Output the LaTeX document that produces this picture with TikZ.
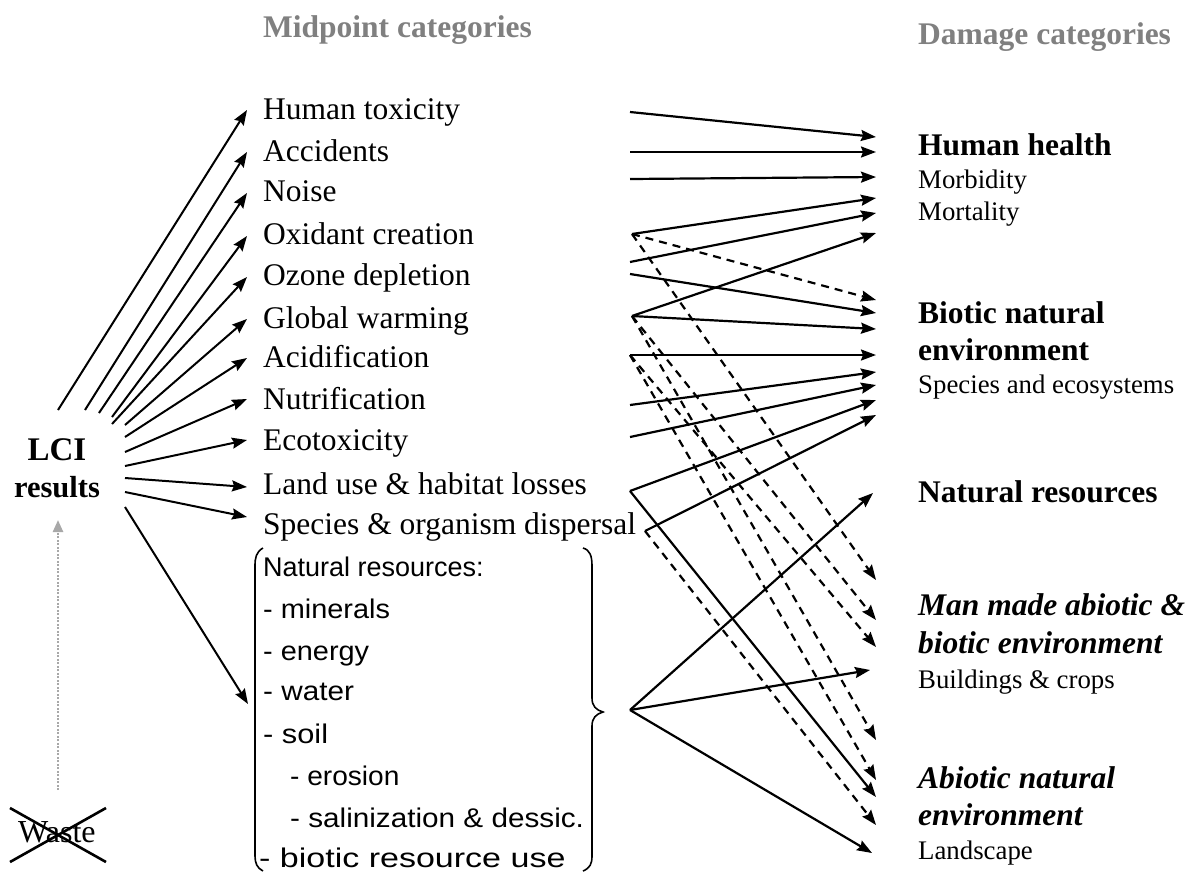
\documentclass[tikz,border=0pt]{standalone}
\usepackage{fontspec}
\setmainfont{Liberation Serif}
\newfontfamily\listfont{Liberation Sans}
\usetikzlibrary{arrows.meta}
\newcommand*\pxsize[1]{\fontsize{#1}{#1}\selectfont}
\newcommand*\wide[2]{\scalebox{#1}[1]{#2}}
\definecolor{headgray}{gray}{0.5}
\definecolor{wastegray}{gray}{0.66}

\begin{document}
\begin{tikzpicture}[x=1pt,y=-1pt,
  lbl/.style={anchor=base west, inner sep=0pt, font=\pxsize{31.5}},
  sub/.style={anchor=base west, inner sep=0pt, font=\pxsize{26.8}},
  dmg/.style={anchor=base west, inner sep=0pt, font=\pxsize{31.5}\bfseries},
  dmgi/.style={anchor=base west, inner sep=0pt, font=\pxsize{31.5}\bfseries\itshape},
  res/.style={anchor=base west, inner sep=0pt, font=\listfont\pxsize{27}},
  head/.style={anchor=base west, inner sep=0pt, font=\pxsize{31.5}\bfseries, text=headgray},
  tip/.style={-{Stealth[length=15pt,width=11pt,inset=2pt]}},
  fan/.style={line width=2pt, tip},
  arr/.style={line width=2.2pt, tip},
  darr/.style={arr, dash pattern=on 8pt off 6pt},
  brace/.style={line width=1.6pt},
]
\useasboundingbox (0,0) rectangle (1197,871);

% column headings
\node[head] (hmid) at (263,37) {Midpoint categories};
\node[head] (hdmg) at (918,44) {Damage categories};

% inventory results
\node[anchor=base, inner sep=0pt, font=\pxsize{33}\bfseries] (lci) at (57,460) {LCI};
\node[anchor=base, inner sep=0pt, font=\pxsize{30.5}\bfseries] (res) at (57,497) {results};
\node[anchor=base west, inner sep=0pt, font=\pxsize{32}] (waste) at (18,842) {Waste};
\draw[line width=2.6pt] (10,808) -- (106,862);
\draw[line width=2.6pt] (10,862) -- (106,808);
\coordinate (wtop) at (58,790);
\coordinate (rbot) at (58,520);
\draw[wastegray, line width=2.4pt, dash pattern=on 2pt off 1.5pt,
      -{Triangle[length=12pt,width=10pt]}] (wtop) -- (rbot);

% midpoint categories
\node[lbl] (ht) at (263,119) {Human toxicity};
\node[lbl] (ac) at (263,161) {Accidents};
\node[lbl] (no) at (263,201) {Noise};
\node[lbl] (ox) at (263,244) {Oxidant creation};
\node[lbl] (oz) at (263,285) {Ozone depletion};
\node[lbl] (gw) at (263,328) {Global warming};
\node[lbl] (ad) at (263,367) {Acidification};
\node[lbl] (nu) at (263,409) {Nutrification};
\node[lbl] (ec) at (263,450) {Ecotoxicity};
\node[lbl] (lu) at (263,494) {Land use \& habitat losses};
\node[lbl] (sp) at (263,534) {Species \& organism dispersal};

% natural resources list
\node[res] (nr) at (263,576) {Natural resources:};
\node[res] (nr1) at (263,618) {\wide{1.07}{- minerals}};
\node[res] (nr2) at (263,660) {\wide{1.07}{- energy}};
\node[res] (nr3) at (263,700) {\wide{1.1}{- water}};
\node[res] (nr4) at (263,743) {\wide{1.14}{- soil}};
\node[res] (nr5) at (290,785) {\wide{1.04}{- erosion}};
\node[res] (nr6) at (290,827) {\wide{1.1}{- salinization \& dessic.}};
\node[res] (nr7) at (259,867) {\wide{1.26}{- biotic resource use}};
\draw[brace] (263,548) .. controls (256,552) and (255,558) .. (255,566)
  -- (255,856) .. controls (255,863) and (257,868) .. (263,871);
\draw[brace] (583,548) .. controls (590,550) and (592,556) .. (592,566)
  -- (592,698) .. controls (592,706) and (596,710) .. (603,712)
  .. controls (596,714) and (592,718) .. (592,726)
  -- (592,856) .. controls (592,864) and (590,868) .. (583,871);

% damage categories
\node[dmg] (hh) at (918,155) {Human health};
\node[sub] (hh1) at (918,188) {Morbidity};
\node[sub] (hh2) at (918,220) {Mortality};
\node[dmg] (bn) at (918,323) {Biotic natural};
\node[dmg] (bn1) at (918,360) {environment};
\node[sub] (bn2) at (918,393) {Species and ecosystems};
\node[dmg] (nres) at (918,502) {Natural resources};
\node[dmgi] (mm) at (918,615) {Man made abiotic \&};
\node[dmgi] (mm1) at (918,653) {biotic environment};
\node[sub] (mm2) at (918,688) {Buildings \& crops};
\node[dmgi] (ab) at (918,788) {Abiotic natural};
\node[dmgi] (ab1) at (918,825) {environment};
\node[sub] (ab2) at (918,859) {Landscape};

% fan from the inventory results
\coordinate (f1) at (58,410);  \coordinate (i-ht) at (247,110);
\coordinate (f2) at (85,410);  \coordinate (i-ac) at (247,152);
\coordinate (f3) at (99,413);  \coordinate (i-no) at (247,193);
\coordinate (f4) at (112,417); \coordinate (i-ox) at (247,236);
\coordinate (f5) at (112,424); \coordinate (i-oz) at (247,277);
\coordinate (f6) at (125,425); \coordinate (i-gw) at (247,319);
\coordinate (f7) at (125,437); \coordinate (i-ad) at (247,358);
\coordinate (f8) at (125,452); \coordinate (i-nu) at (247,399);
\coordinate (f9) at (125,466); \coordinate (i-ec) at (247,440);
\coordinate (f10) at (125,478); \coordinate (i-lu) at (247,487);
\coordinate (f11) at (125,492); \coordinate (i-sp) at (247,517);
\coordinate (f12) at (125,507); \coordinate (i-nr) at (248,704);
\draw[fan] (f1) -- (i-ht);
\draw[fan] (f2) -- (i-ac);
\draw[fan] (f3) -- (i-no);
\draw[fan] (f4) -- (i-ox);
\draw[fan] (f5) -- (i-oz);
\draw[fan] (f6) -- (i-gw);
\draw[fan] (f7) -- (i-ad);
\draw[fan] (f8) -- (i-nu);
\draw[fan] (f9) -- (i-ec);
\draw[fan] (f10) -- (i-lu);
\draw[fan] (f11) -- (i-sp);
\draw[fan] (f12) -- (i-nr);

% outgoing ends of the midpoint categories
\coordinate (o-ht) at (630,112);
\coordinate (o-ac) at (630,152);
\coordinate (o-no) at (630,179);
\coordinate (o-ox) at (632,234);
\coordinate (o-oz) at (630,262);
\coordinate (o-oz2) at (630,274);
\coordinate (o-gw) at (632,316);
\coordinate (o-ad) at (630,355);
\coordinate (o-nu) at (630,405);
\coordinate (o-ec) at (630,437);
\coordinate (o-lu) at (630,491);
\coordinate (o-sp) at (645,531);
\coordinate (o-nr) at (630,710);

% incoming ends at the damage categories
\coordinate (t-hh1) at (876,137);
\coordinate (t-hh2) at (876,152);
\coordinate (t-hh3) at (876,177);
\coordinate (t-hh4) at (876,198);
\coordinate (t-hh5) at (876,213);
\coordinate (t-hh6) at (876,233);
\coordinate (t-bn1) at (876,300);
\coordinate (t-bn2) at (876,313);
\coordinate (t-bn3) at (876,329);
\coordinate (t-bn4) at (876,355);
\coordinate (t-bn5) at (876,372);
\coordinate (t-bn6) at (876,385);
\coordinate (t-bn7) at (876,400);
\coordinate (t-bn8) at (876,415);
\coordinate (t-nr)  at (873,493);
\coordinate (t-mm1) at (876,580);
\coordinate (t-mm2) at (876,620);
\coordinate (t-mm3) at (876,647);
\coordinate (t-mm4) at (870,670);
\coordinate (t-ab1) at (876,740);
\coordinate (t-ab2) at (876,780);
\coordinate (t-ab3) at (876,797);
\coordinate (t-ab4) at (876,825);
\coordinate (t-ab5) at (872,853);

% solid links
\draw[arr] (o-ht) -- (t-hh1);
\draw[arr] (o-ac) -- (t-hh2);
\draw[arr] (o-no) -- (t-hh3);
\draw[arr] (o-ox) -- (t-hh4);
\draw[arr] (o-oz) -- (t-hh5);
\draw[arr] (o-gw) -- (t-hh6);
\draw[arr] (o-oz2) -- (t-bn2);
\draw[arr] (o-gw) -- (t-bn3);
\draw[arr] (o-ad) -- (t-bn4);
\draw[arr] (o-nu) -- (t-bn5);
\draw[arr] (o-ec) -- (t-bn6);
\draw[arr] (o-lu) -- (t-bn7);
\draw[arr] (o-sp) -- (t-bn8);
\draw[arr] (o-nr) -- (t-nr);
\draw[arr] (o-nr) -- (t-mm4);
\draw[arr] (o-nr) -- (t-ab5);
\draw[arr] (o-lu) -- (t-ab3);

% dashed links
\draw[darr] (o-ox) -- (t-bn1);
\draw[darr] (o-ox) -- (t-mm1);
\draw[darr] (o-gw) -- (t-mm2);
\draw[darr] (o-ad) -- (t-mm3);
\draw[darr] (o-gw) -- (t-ab1);
\draw[darr] (o-ad) -- (t-ab2);
\draw[darr] (o-sp) -- (t-ab4);
\end{tikzpicture}
\end{document}
